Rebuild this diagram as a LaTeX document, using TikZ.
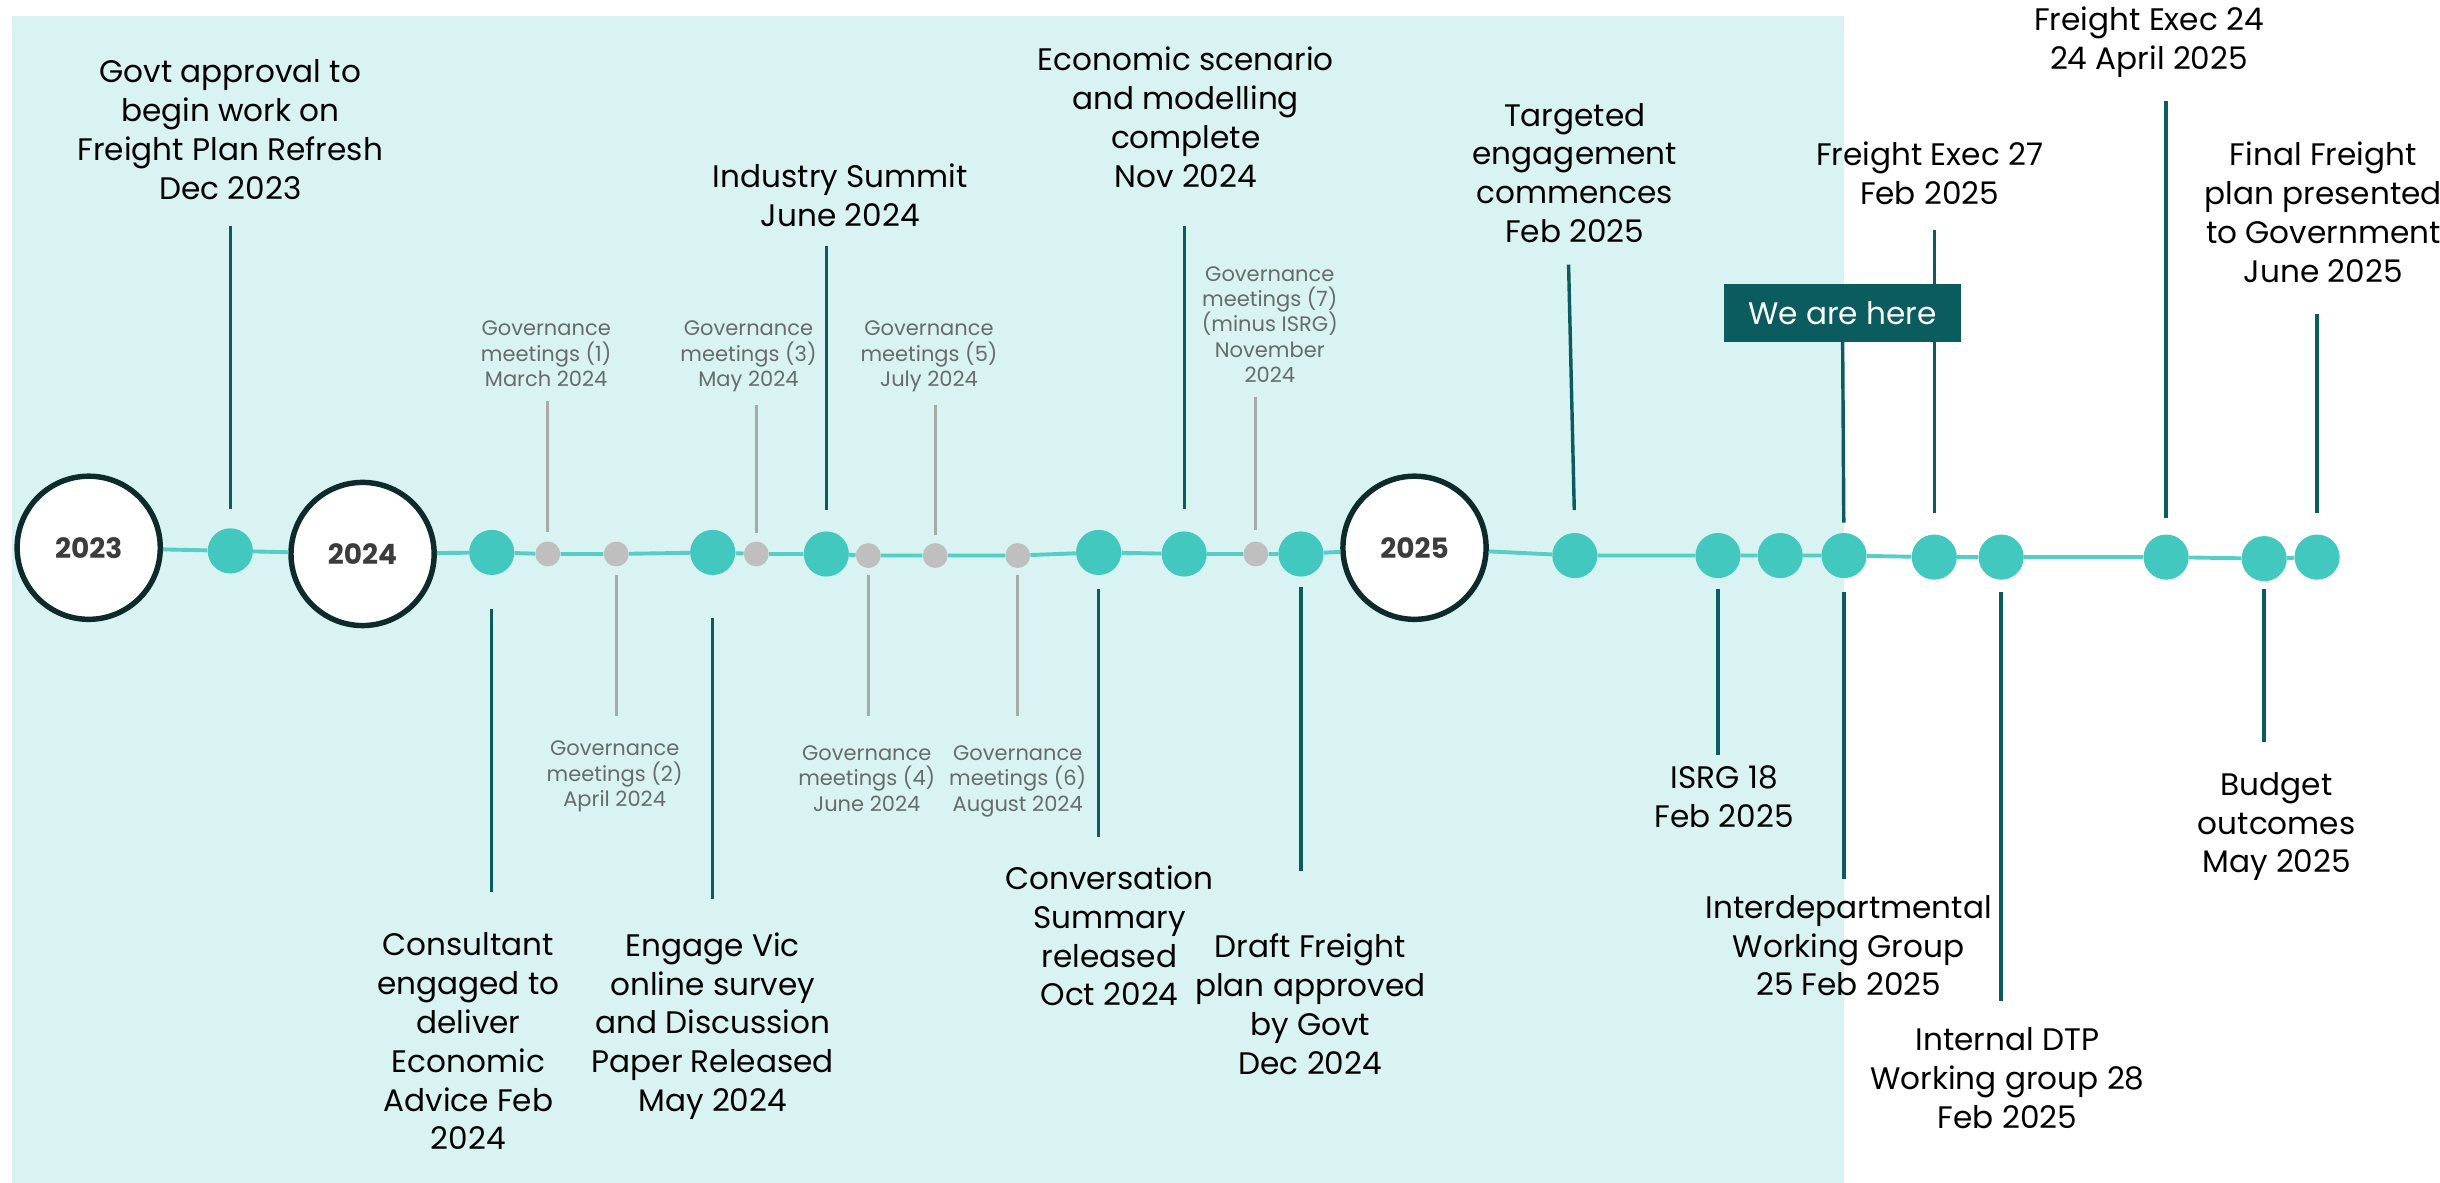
\documentclass[tikz,border=0pt]{standalone}
\usepackage{fontspec}
\setmainfont{Poppins}
\usetikzlibrary{positioning}

\definecolor{bgteal}{HTML}{D9F3F2}
\definecolor{dotteal}{HTML}{42C8BE}
\definecolor{lineteal}{HTML}{55CEC5}
\definecolor{stemteal}{HTML}{0A5C5F}
\definecolor{gdotgray}{HTML}{BFBFBF}
\definecolor{gstemgray}{HTML}{A9A9A9}
\definecolor{ringdark}{HTML}{0D2B2B}
\definecolor{yeargray}{HTML}{3C3C3C}
\definecolor{govgray}{HTML}{666C6C}

\tikzset{
  tdot/.style={circle,fill=dotteal,inner sep=0pt,minimum size=29pt},
  gdot/.style={circle,fill=gdotgray,inner sep=0pt,minimum size=16pt},
  yearnode/.style={circle,draw=ringdark,line width=3.5pt,fill=white,
    minimum size=92pt,inner sep=0pt,text=yeargray,
    font=\fontsize{18}{18}\selectfont\bfseries},
  event/.style={align=center,inner sep=0pt,anchor=north,
    font=\fontsize{20}{25}\selectfont},
  govlabel/.style={align=center,inner sep=0pt,anchor=north,text=govgray,
    font=\fontsize{13.5}{16.3}\selectfont},
  herebox/.style={fill=stemteal,text=white,inner sep=0pt,
    minimum width=152pt,minimum height=37pt,
    font=\fontsize{20}{20}\selectfont},
  stem/.style={draw=stemteal,line width=2.2pt},
  gstem/.style={draw=gstemgray,line width=2pt},
  tline/.style={draw=lineteal,line width=2.5pt}
}

\begin{document}
\begin{tikzpicture}[x=1pt,y=-1pt]
\useasboundingbox (0,0) rectangle (1568,760);

% shaded part: work done so far
\fill[bgteal] (8,10) rectangle (1185,760);

% timeline points
\node[yearnode] (y23) at (57,352) {2023};
\node[tdot] (e1) at (148,354) {};
\node[yearnode] (y24) at (233,356) {2024};
\node[tdot] (e2) at (316,355) {};
\node[gdot] (g1) at (352,356) {};
\node[gdot] (g2) at (396,356) {};
\node[tdot] (e3) at (458,355) {};
\node[gdot] (g3) at (486,356) {};
\node[tdot] (e4) at (531,356) {};
\node[gdot] (g4) at (558,357) {};
\node[gdot] (g5) at (601,357) {};
\node[gdot] (g6) at (654,357) {};
\node[tdot] (e5) at (706,355) {};
\node[tdot] (e6) at (761,356) {};
\node[gdot] (g7) at (807,356) {};
\node[tdot] (e7) at (836,356) {};
\node[yearnode] (y25) at (909,352) {2025};
\node[tdot] (e8) at (1012,357) {};
\node[tdot] (e9) at (1104,357) {};
\node[tdot] (e10) at (1144,357) {};
\node[tdot] (e11) at (1185,357) {};
\node[tdot] (e12) at (1243,358) {};
\node[tdot] (e13) at (1286,358) {};
\node[tdot] (e14) at (1392,358) {};
\node[tdot] (e15) at (1455,359) {};
\node[tdot] (e16) at (1489,358) {};

\draw[tline] (y23) -- (e1) -- (y24) -- (e2) -- (g1) -- (g2) -- (e3) -- (g3)
  -- (e4) -- (g4) -- (g5) -- (g6) -- (e5) -- (e6) -- (g7) -- (e7) -- (y25)
  -- (e8) -- (e9) -- (e10) -- (e11) -- (e12) -- (e13) -- (e14) -- (e15) -- (e16);

% events above the line
\node[event] (l1) at (148,38) {Govt approval to\\begin work on\\Freight Plan Refresh\\Dec 2023};
\coordinate (t1) at (148,145);
\draw[stem,shorten >=12.5pt] (t1) -- (e1.north);

\node[govlabel] (m1) at (351,206) {Governance\\meetings (1)\\March 2024};
\coordinate (u1) at (352,258);
\draw[gstem,shorten >=6pt] (u1) -- (g1.north);

\node[govlabel] (m3) at (481,206) {Governance\\meetings (3)\\May 2024};
\coordinate (u3) at (486,260);
\draw[gstem,shorten >=5pt] (u3) -- (g3.north);

\node[event] (l4) at (540,105) {Industry Summit\\June 2024};
\coordinate (t4) at (531,158);
\draw[stem,shorten >=13.5pt] (t4) -- (e4.north);

\node[govlabel] (m5) at (597,206) {Governance\\meetings (5)\\July 2024};
\coordinate (u5) at (601,260);
\draw[gstem,shorten >=5pt] (u5) -- (g5.north);

\node[event] (l6) at (762,30) {Economic scenario\\and modelling\\complete\\Nov 2024};
\coordinate (t6) at (761,145);
\draw[stem,shorten >=14.5pt] (t6) -- (e6.north);

\node[govlabel] (m7) at (816,171) {Governance\\meetings (7)\\(minus ISRG)\\November\\2024};
\coordinate (u7) at (807,255);
\draw[gstem,shorten >=7pt] (u7) -- (g7.north);

\node[event] (l8) at (1012,66) {Targeted\\engagement\\commences\\Feb 2025};
\coordinate (t8) at (1008,170);
\draw[stem,shorten >=14.5pt] (t8) -- (e8.north);

\node[event] (l12) at (1240,91) {Freight Exec 27\\Feb 2025};
\coordinate (t12) at (1243,148);
\draw[stem,shorten >=13.5pt] (t12) -- (e12.north);

\node[herebox] (here) at (1184,201) {We are here};
\draw[stem,shorten >=6.5pt] (here) -- (e11);

\node[event] (l14) at (1381,4) {Freight Exec 24\\24 April 2025};
\coordinate (t14) at (1392,65);
\draw[stem,shorten >=10.5pt] (t14) -- (e14.north);

\node[event] (l16) at (1493,91) {Final Freight\\plan presented\\to Government\\June 2025};
\coordinate (t16) at (1489,202);
\draw[stem,shorten >=13.5pt] (t16) -- (e16.north);

% events below the line
\coordinate (b2) at (316,573);
\draw[stem,shorten <=21.5pt] (e2.south) -- (b2);
\node[event] (l2) at (301,599) {Consultant\\engaged to\\deliver\\Economic\\Advice Feb\\2024};

\coordinate (v2) at (396,460);
\draw[gstem,shorten <=5pt] (g2.south) -- (v2);
\node[govlabel] (m2) at (395,476) {Governance\\meetings (2)\\April 2024};

\coordinate (b3) at (458,578);
\draw[stem,shorten <=27.5pt] (e3.south) -- (b3);
\node[event] (l3) at (458,599) {Engage Vic\\online survey\\and Discussion\\Paper Released\\May 2024};

\coordinate (v4) at (558,460);
\draw[gstem,shorten <=4pt] (g4.south) -- (v4);
\node[govlabel] (m4) at (557,479) {Governance\\meetings (4)\\June 2024};

\coordinate (v6) at (654,460);
\draw[gstem,shorten <=4pt] (g6.south) -- (v6);
\node[govlabel] (m6) at (654,479) {Governance\\meetings (6)\\August 2024};

\coordinate (b5) at (706,538);
\draw[stem,shorten <=8.5pt] (e5.south) -- (b5);
\node[event] (l5) at (713,556) {Conversation\\Summary\\released\\Oct 2024};

\coordinate (b7) at (836,560);
\draw[stem,shorten <=6.5pt] (e7.south) -- (b7);
\node[event] (l7) at (842,600) {Draft Freight\\plan approved\\by Govt\\Dec 2024};

\coordinate (b9) at (1104,485);
\draw[stem,shorten <=6.5pt] (e9.south) -- (b9);
\node[event] (l9) at (1108,492) {ISRG 18\\Feb 2025};

\coordinate (b11) at (1185,565);
\draw[stem,shorten <=8.5pt] (e11.south) -- (b11);
\node[event] (l11) at (1188,575) {Interdepartmental\\Working Group\\25 Feb 2025};

\coordinate (b13) at (1286,643);
\draw[stem,shorten <=7.5pt] (e13.south) -- (b13);
\node[event] (l13) at (1290,660) {Internal DTP\\Working group 28\\Feb 2025};

\coordinate (b15) at (1455,477);
\draw[stem,shorten <=4.5pt] (e15.south) -- (b15);
\node[event] (l15) at (1463,496) {Budget\\outcomes\\May 2025};
\end{tikzpicture}
\end{document}
